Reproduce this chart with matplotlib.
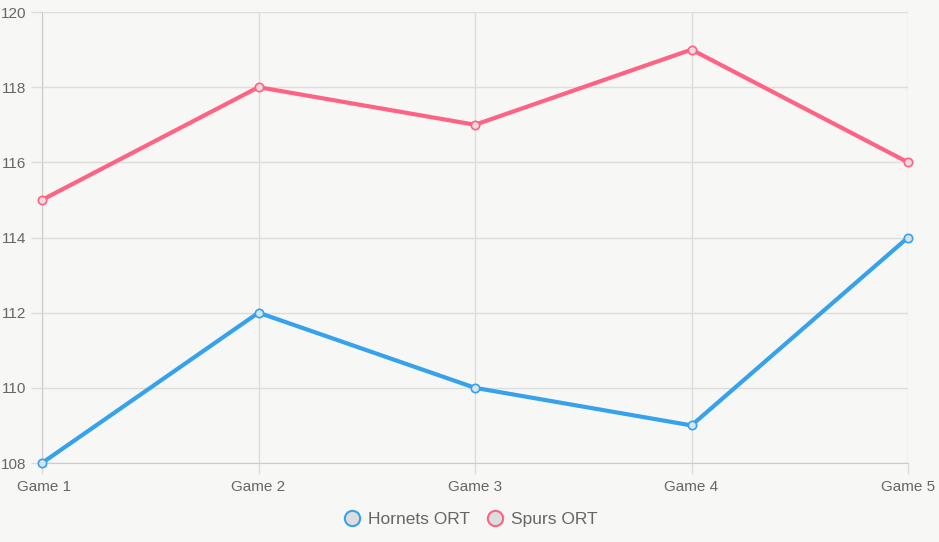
import matplotlib.pyplot as plt
import matplotlib.transforms as mt
from matplotlib.lines import Line2D

plt.rcParams['font.family'] = ['Liberation Sans', 'DejaVu Sans']

games = ["Game 1", "Game 2", "Game 3", "Game 4", "Game 5"]
hornets = [108, 112, 110, 109, 114]
spurs = [115, 118, 117, 119, 116]

bg = "#f7f7f5"
blue = "#36a2eb"
pink = "#ff6384"
grid = "#dddddd"
txt = "#666666"

fig = plt.figure(figsize=(9.39, 5.42), dpi=100, facecolor=bg)
ax = fig.add_axes([42 / 939, 1 - 463 / 542, 866 / 939, 451 / 542])
ax.set_facecolor(bg)

x = range(len(games))
ax.plot(x, hornets, color=blue, lw=3, marker="o", ms=6, mfc="#d8e4ec", mec=blue, mew=1.2,
        clip_on=False, zorder=3)
ax.plot(x, spurs, color=pink, lw=3, marker="o", ms=6, mfc="#f0d8dc", mec=pink, mew=1.2,
        clip_on=False, zorder=3)

ax.set_xlim(0, 4)
ax.set_ylim(108, 120)
ax.set_xticks(list(x))
ax.set_xticklabels(games)
ax.set_yticks(range(108, 121, 2))
ax.grid(True, color=grid, lw=1)
ax.set_axisbelow(True)
for s in ["top", "right"]:
    ax.spines[s].set_visible(False)
for s in ["left", "bottom"]:
    ax.spines[s].set_color("#cccccc")
ax.tick_params(colors=grid, labelcolor=txt, labelsize=11, length=8, width=1, pad=3)
ax.tick_params(axis="x", pad=4)

# keep the first label inside the figure, like the original
labels = ax.get_xticklabels()
labels[0].set_transform(labels[0].get_transform() + mt.ScaledTranslation(2 / 100, 0, fig.dpi_scale_trans))

handles = [
    Line2D([], [], ls="", marker="o", ms=11, mfc="#dddddd", mec=blue, mew=1.5, label="Hornets ORT"),
    Line2D([], [], ls="", marker="o", ms=11, mfc="#dddddd", mec=pink, mew=1.5, label="Spurs ORT"),
]
fig.legend(handles=handles, loc="center", bbox_to_anchor=(0.5, 1 - 519 / 542), ncol=2,
           frameon=False, fontsize=12.5, labelcolor=txt, handletextpad=0.35, columnspacing=0.8,
           handlelength=1.2)

fig.savefig("out.png", dpi=100, facecolor=bg)
